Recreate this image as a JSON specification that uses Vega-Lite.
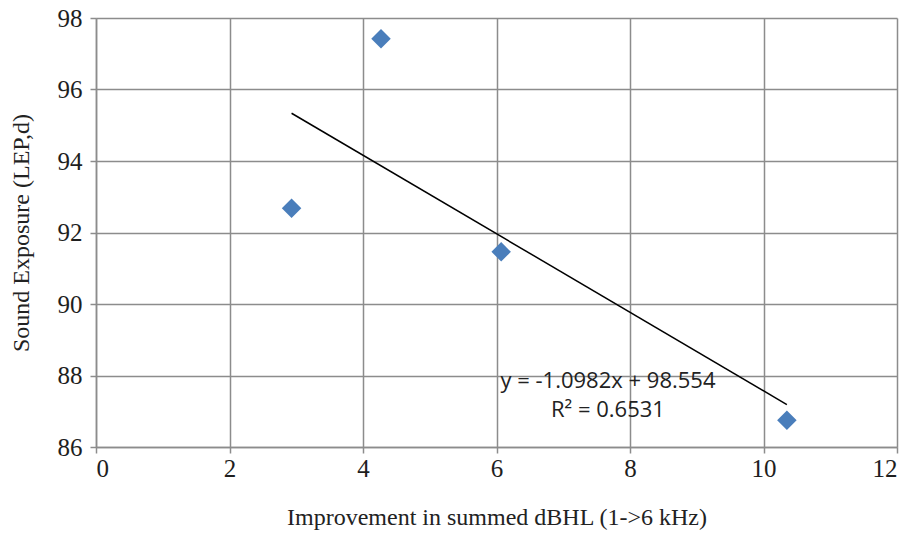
{
  "$schema": "https://vega.github.io/schema/vega-lite/v6.json",
  "width": 801,
  "height": 429,
  "autosize": {"type": "none"},
  "padding": {"left": 96, "top": 18, "right": 16, "bottom": 88},
  "background": "white",
  "config": {
    "view": {"stroke": null},
    "axis": {
      "titleFont": "Liberation Serif",
      "titleFontSize": 24,
      "titleFontWeight": "normal",
      "titleColor": "#222",
      "gridColor": "#8c8c8c",
      "gridWidth": 1.5,
      "gridOpacity": 1,
      "domainColor": "#8c8c8c",
      "domainWidth": 1.5,
      "tickColor": "#8c8c8c",
      "tickWidth": 1.5,
      "tickSize": 6
    }
  },
  "datasets": {
    "pts": [
      {"x": 2.93, "y": 92.68},
      {"x": 4.27, "y": 97.42},
      {"x": 6.07, "y": 91.46},
      {"x": 10.35, "y": 86.75}
    ],
    "trend": [
      {"x": 2.93, "y": 95.336},
      {"x": 10.35, "y": 87.188}
    ],
    "notes": [
      {"x": 7.67, "y": 87.85, "t": "y = -1.0982x + 98.554"},
      {"x": 7.67, "y": 87.03, "t": "R² = 0.6531"}
    ]
  },
  "layer": [
    {
      "data": {"name": "trend"},
      "mark": {"type": "line", "color": "black", "strokeWidth": 1.5},
      "encoding": {
        "x": {"field": "x", "type": "quantitative", "scale": {"domain": [0, 12], "nice": false}, "axis": {"values": [0, 2, 4, 6, 8, 10, 12], "format": "d", "labelFont": "Liberation Serif", "labelFontSize": 25, "labelColor": "#1e1e1e", "title": "Improvement in summed dBHL (1->6 kHz)", "labelPadding": 3, "titleY": 58}},
        "y": {"field": "y", "type": "quantitative", "scale": {"domain": [86, 98], "nice": false, "zero": false}, "axis": {"values": [86, 88, 90, 92, 94, 96, 98], "format": "d", "labelFont": "Liberation Serif", "labelFontSize": 25, "labelColor": "#1e1e1e", "title": "Sound Exposure (LEP,d)", "labelPadding": 8, "titleX": -63}}
      }
    },
    {
      "data": {"name": "pts"},
      "mark": {"type": "point", "shape": "diamond", "filled": true, "color": "#4a7ebb", "opacity": 1, "size": 380},
      "encoding": {
        "x": {"field": "x", "type": "quantitative"},
        "y": {"field": "y", "type": "quantitative"}
      }
    },
    {
      "data": {"name": "notes"},
      "mark": {"type": "text", "font": "Open Sans", "fontSize": 22, "color": "#222", "align": "center", "baseline": "middle"},
      "encoding": {
        "x": {"field": "x", "type": "quantitative"},
        "y": {"field": "y", "type": "quantitative"},
        "text": {"field": "t"}
      }
    }
  ]
}
